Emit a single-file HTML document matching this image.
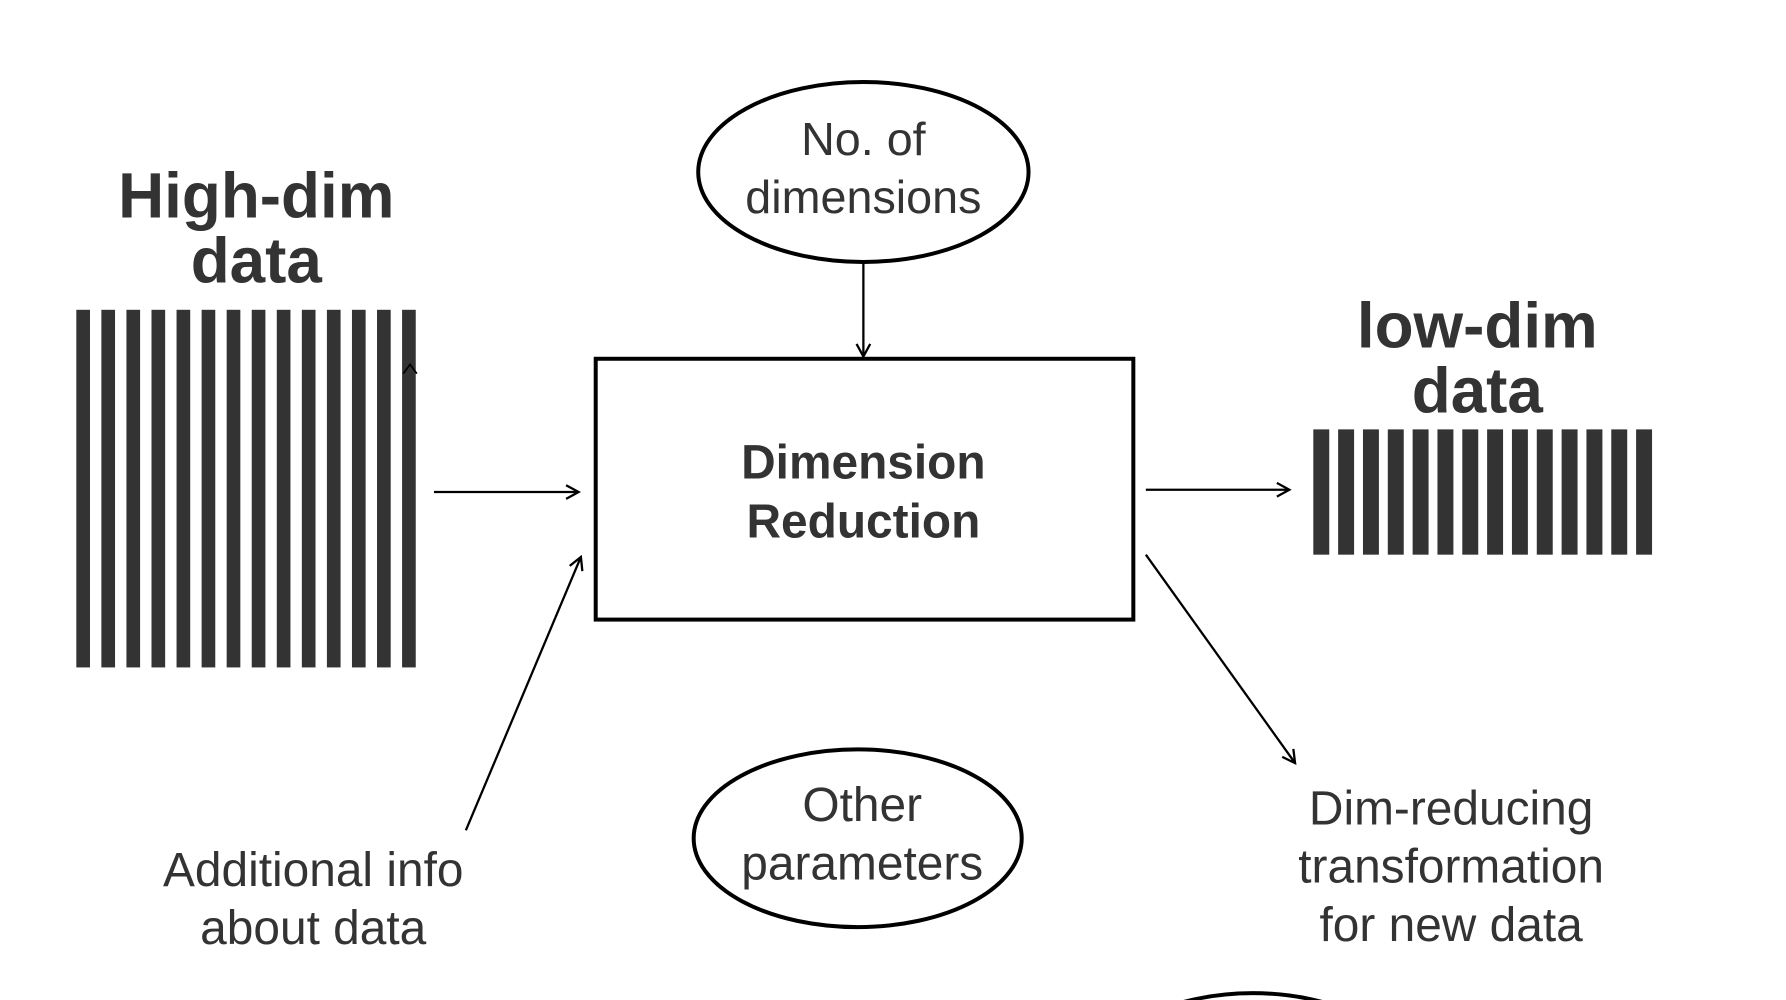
<!DOCTYPE html>
<html><head><meta charset="utf-8"><style>
html,body{margin:0;padding:0;background:#fff;overflow:hidden;width:1786px;height:1000px;}
svg{display:block;}
text{font-family:"Liberation Sans",Arial,sans-serif;fill:#333;}
</style></head><body>
<svg width="1786" height="1000" viewBox="0 0 1568 878" preserveAspectRatio="none" xmlns="http://www.w3.org/2000/svg">
<defs>
<marker id="a" markerWidth="14" markerHeight="14" refX="12" refY="7" orient="auto" markerUnits="userSpaceOnUse">
<path d="M1,1 L12,7 L1,13" fill="none" stroke="#000" stroke-width="2"/>
</marker>
</defs>
<rect width="1568" height="878" fill="#fff"/>
<g fill="#333">
<rect x="67" y="272" width="12" height="314"/><rect x="89" y="272" width="12" height="314"/><rect x="111" y="272" width="12" height="314"/><rect x="133" y="272" width="12" height="314"/><rect x="155" y="272" width="12" height="314"/><rect x="177" y="272" width="12" height="314"/><rect x="199" y="272" width="12" height="314"/><rect x="221" y="272" width="12" height="314"/><rect x="243" y="272" width="12" height="314"/><rect x="265" y="272" width="12" height="314"/><rect x="287" y="272" width="12" height="314"/><rect x="309" y="272" width="12" height="314"/><rect x="331" y="272" width="12" height="314"/><rect x="353" y="272" width="12" height="314"/>
<rect x="1153" y="377" width="14" height="110"/><rect x="1174.8" y="377" width="14" height="110"/><rect x="1196.6" y="377" width="14" height="110"/><rect x="1218.4" y="377" width="14" height="110"/><rect x="1240.2" y="377" width="14" height="110"/><rect x="1262" y="377" width="14" height="110"/><rect x="1283.8" y="377" width="14" height="110"/><rect x="1305.6" y="377" width="14" height="110"/><rect x="1327.4" y="377" width="14" height="110"/><rect x="1349.2" y="377" width="14" height="110"/><rect x="1371" y="377" width="14" height="110"/><rect x="1392.8" y="377" width="14" height="110"/><rect x="1414.6" y="377" width="14" height="110"/><rect x="1436.4" y="377" width="14" height="110"/>
</g>
<text x="225" y="191" font-size="56" font-weight="bold" text-anchor="middle">High-dim</text>
<text x="225" y="248" font-size="56" font-weight="bold" text-anchor="middle">data</text>
<text x="1297" y="305" font-size="56" font-weight="bold" text-anchor="middle">low-dim</text>
<text x="1297" y="362" font-size="56" font-weight="bold" text-anchor="middle">data</text>
<ellipse cx="758" cy="151" rx="145" ry="79" fill="none" stroke="#000" stroke-width="3.5"/>
<text x="758" y="136" font-size="41" text-anchor="middle">No. of</text>
<text x="758" y="187" font-size="41" text-anchor="middle">dimensions</text>
<line x1="758" y1="231" x2="758" y2="313" stroke="#000" stroke-width="2" marker-end="url(#a)"/>
<rect x="523" y="315" width="472" height="229" fill="none" stroke="#000" stroke-width="3.5"/>
<text x="758" y="420" font-size="42" font-weight="bold" text-anchor="middle">Dimension</text>
<text x="758" y="472" font-size="42" font-weight="bold" text-anchor="middle">Reduction</text>
<line x1="381" y1="432" x2="508" y2="432" stroke="#000" stroke-width="2" marker-end="url(#a)"/>
<line x1="1006" y1="430" x2="1132" y2="430" stroke="#000" stroke-width="2" marker-end="url(#a)"/>
<line x1="409" y1="729" x2="510" y2="489" stroke="#000" stroke-width="2" marker-end="url(#a)"/>
<line x1="1006" y1="487" x2="1137" y2="670" stroke="#000" stroke-width="2" marker-end="url(#a)"/>
<path d="M354,328 L360,320 L366,328" fill="none" stroke="#000" stroke-width="1.5"/>
<ellipse cx="753" cy="736" rx="144" ry="78" fill="none" stroke="#000" stroke-width="3.5"/>
<text x="757" y="721" font-size="42" text-anchor="middle">Other</text>
<text x="757" y="772" font-size="42" text-anchor="middle">parameters</text>
<text x="275" y="778" font-size="42" text-anchor="middle">Additional info</text>
<text x="275" y="829" font-size="42" text-anchor="middle">about data</text>
<text x="1274" y="724" font-size="42" text-anchor="middle">Dim-reducing</text>
<text x="1274" y="775" font-size="42" text-anchor="middle">transformation</text>
<text x="1274" y="826" font-size="42" text-anchor="middle">for new data</text>
<ellipse cx="1100" cy="950" rx="140" ry="78" fill="none" stroke="#000" stroke-width="3.5"/>
</svg>
</body></html>
